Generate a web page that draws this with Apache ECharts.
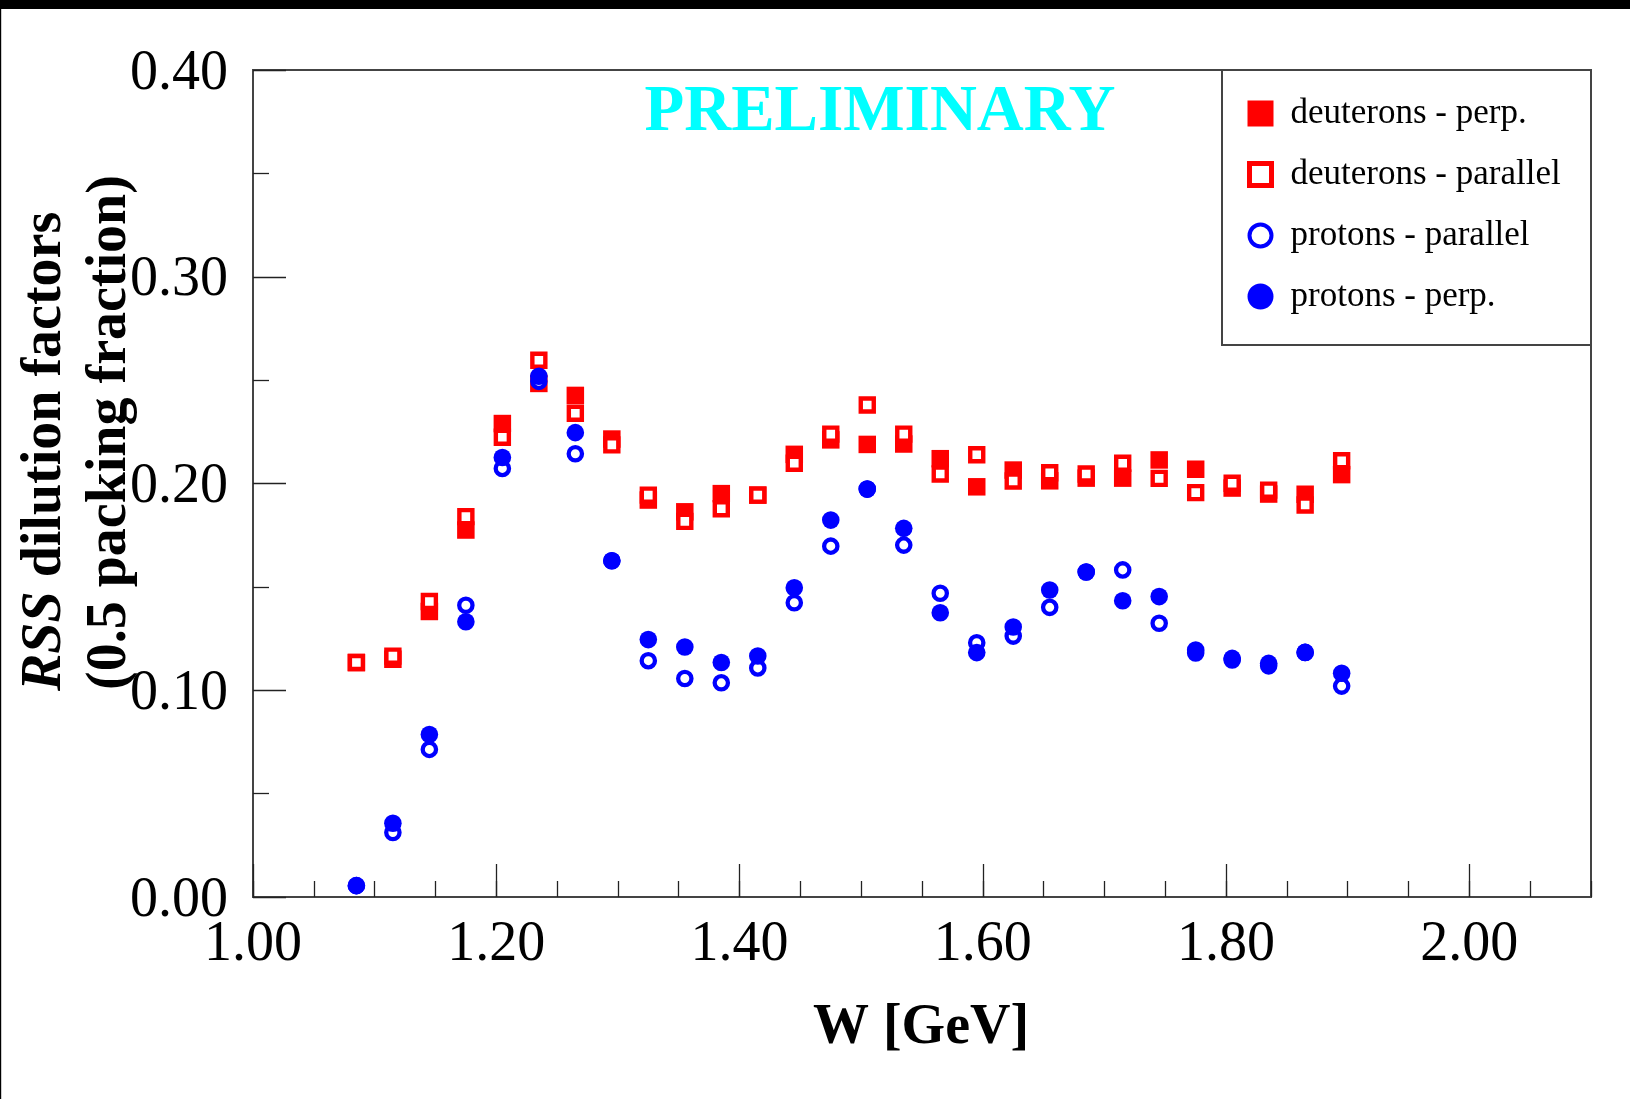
<!DOCTYPE html>
<html>
<head>
<meta charset="utf-8">
<script src="https://cdn.jsdelivr.net/npm/echarts@6/dist/echarts.min.js"></script>
<style>
html,body{margin:0;padding:0;background:#fff;}
#chart{width:1630px;height:1099px;}
</style>
</head>
<body>
<div id="chart"></div>
<script>
// ---- data ----
const W = [1.085, 1.115, 1.145, 1.175, 1.205, 1.235, 1.265, 1.295, 1.325, 1.355,
           1.385, 1.415, 1.445, 1.475, 1.505, 1.535, 1.565, 1.595, 1.625, 1.655,
           1.685, 1.715, 1.745, 1.775, 1.805, 1.835, 1.865, 1.895];
const deuteronsPerp = [0.1134, 0.1150, 0.1381, 0.1775, 0.2290, 0.2484, 0.2426, 0.2215, 0.1920, 0.1863,
                       0.1951, 0.1944, 0.2141, 0.2211, 0.2189, 0.2191, 0.2120, 0.1984, 0.2065, 0.2013,
                       0.2026, 0.2026, 0.2114, 0.2069, 0.1978, 0.1949, 0.1948, 0.2043];
const deuteronsParallel = [0.1134, 0.1165, 0.1429, 0.1840, 0.2224, 0.2596, 0.2340, 0.2187, 0.1944, 0.1817,
                           0.1878, 0.1944, 0.2098, 0.2239, 0.2380, 0.2239, 0.2046, 0.2139, 0.2012, 0.2052,
                           0.2046, 0.2098, 0.2025, 0.1956, 0.2001, 0.1968, 0.1896, 0.2110];
const protonsParallel = [0.0055, 0.0312, 0.0714, 0.1411, 0.2073, 0.2494, 0.2144, 0.1626, 0.1143, 0.1057,
                         0.1036, 0.1108, 0.1423, 0.1697, 0.1973, 0.1702, 0.1469, 0.1230, 0.1262, 0.1401,
                         0.1572, 0.1582, 0.1324, 0.1180, 0.1146, 0.1118, 0.1183, 0.1020];
const protonsPerp = [0.0055, 0.0357, 0.0786, 0.1331, 0.2126, 0.2519, 0.2246, 0.1626, 0.1245, 0.1209,
                     0.1134, 0.1166, 0.1496, 0.1823, 0.1973, 0.1783, 0.1375, 0.1182, 0.1306, 0.1485,
                     0.1572, 0.1433, 0.1453, 0.1195, 0.1154, 0.1130, 0.1183, 0.1082];
const seriesNames = ['deuterons - perp.', 'deuterons - parallel', 'protons - parallel', 'protons - perp.'];
const xTickValues = [1.0, 1.2, 1.4, 1.6, 1.8, 2.0];
const xTickLabels = ['1.00', '1.20', '1.40', '1.60', '1.80', '2.00'];
const yTickValues = [0.0, 0.1, 0.2, 0.3, 0.4];
const yTickLabels = ['0.00', '0.10', '0.20', '0.30', '0.40'];

// ---- chart ----
const FONT = "'Liberation Serif', 'DejaVu Serif', serif";
const RED = '#ff0000', BLUE = '#0000ff', FRAME = '#444444', TICK = '#222222';
function lab(values, labels, wrap) {
  return function (v) {
    for (let i = 0; i < values.length; i++) {
      if (Math.abs(values[i] - v) < 1e-6) return wrap ? '{a|' + labels[i] + '}' : labels[i];
    }
    return '';
  };
}
function pts(arr) { return W.map((w, i) => [w, arr[i]]); }

const chart = echarts.init(document.getElementById('chart'), null, {renderer: 'canvas'});
const axisLineStyle = {show: true, lineStyle: {color: FRAME, width: 2}};
const option = {
  animation: false,
  backgroundColor: '#ffffff',
  grid: {left: 253, top: 70, width: 1338, height: 827, show: true, borderColor: FRAME, borderWidth: 2, backgroundColor: '#fff'},
  xAxis: [
    {type: 'value', min: 1.0, max: 2.1, interval: 0.2, position: 'bottom',
     axisLine: axisLineStyle, splitLine: {show: false},
     axisTick: {show: true, inside: true, length: 33, lineStyle: {color: TICK, width: 1.3}},
     axisLabel: {show: true, margin: 20, showMaxLabel: false, formatter: lab(xTickValues, xTickLabels, false),
                 fontFamily: FONT, fontSize: 56, color: '#000'}},
    {type: 'value', min: 1.0, max: 2.1, interval: 0.05, position: 'bottom',
     axisLine: axisLineStyle, splitLine: {show: false},
     axisTick: {show: true, inside: true, length: 16, lineStyle: {color: TICK, width: 1.3}},
     axisLabel: {show: false}}
  ],
  yAxis: [
    {type: 'value', min: 0, max: 0.4, interval: 0.1, position: 'left',
     axisLine: axisLineStyle, splitLine: {show: false},
     axisTick: {show: true, inside: true, length: 33, lineStyle: {color: TICK, width: 1.3}},
     minorTick: {show: true, splitNumber: 2, length: 16, lineStyle: {color: TICK, width: 1.3}},
     minorSplitLine: {show: false},
     axisLabel: {show: true, margin: 25, formatter: lab(yTickValues, yTickLabels, true),
                 fontFamily: FONT, fontSize: 56, color: '#000',
                 rich: {a: {fontFamily: FONT, fontSize: 56, color: '#000', padding: [8, 0, 0, 0]}}}}
  ],
  legend: {
    orient: 'vertical', left: 1242, top: 91, itemGap: 26, padding: 5,
    itemWidth: 50, itemHeight: 22, symbolKeepAspect: true,
    textStyle: {fontFamily: FONT, fontSize: 35, lineHeight: 34, color: '#000'},
    data: [
      {name: seriesNames[0], icon: 'path://M0,0L1,0L1,1L0,1Z', itemStyle: {color: RED, borderColor: RED, borderWidth: 4}},
      {name: seriesNames[1], icon: 'path://M0,0L1,0L1,1L0,1Z', itemStyle: {color: '#fff', borderColor: RED, borderWidth: 5}},
      {name: seriesNames[2], icon: 'circle', itemStyle: {color: '#fff', borderColor: BLUE, borderWidth: 4}},
      {name: seriesNames[3], icon: 'circle', itemStyle: {color: BLUE, borderColor: BLUE, borderWidth: 4}}
    ]
  },
  graphic: {elements: [
    {type: 'rect', z: 3, shape: {x: 1222, y: 70, width: 369, height: 275}, style: {fill: '#fff', stroke: FRAME, lineWidth: 2}},
    {type: 'rect', z: 10, shape: {x: 0, y: 0, width: 1630, height: 9}, style: {fill: '#000'}},
    {type: 'rect', z: 10, shape: {x: 0, y: 0, width: 1.2, height: 1099}, style: {fill: '#000'}},
    {type: 'text', z: 5, x: 880, y: 113, style: {text: 'PRELIMINARY', fill: '#00ffff', font: "bold 65px " + FONT, textAlign: 'center', textVerticalAlign: 'middle'}},
    {type: 'text', z: 5, x: 921, y: 1029, style: {text: 'W [GeV]', fill: '#000', font: "bold 56px " + FONT, textAlign: 'center', textVerticalAlign: 'middle'}},
    {type: 'text', z: 5, x: 46, y: 691, rotation: Math.PI / 2,
     style: {text: '{i|RSS}{b| dilution factors}', fill: '#000', textAlign: 'left', textVerticalAlign: 'middle',
             rich: {i: {font: "italic bold 56px " + FONT, fill: '#000'}, b: {font: "bold 56px " + FONT, fill: '#000'}}}},
    {type: 'text', z: 5, x: 111, y: 690, rotation: Math.PI / 2,
     style: {text: '(0.5 packing fraction)', fill: '#000', font: "bold 56px " + FONT, textAlign: 'left', textVerticalAlign: 'middle'}}
  ]},
  series: [
    {name: seriesNames[0], type: 'scatter', silent: true, xAxisIndex: 0, yAxisIndex: 0, z: 2,
     symbol: 'rect', symbolSize: 17.5, itemStyle: {color: RED, opacity: 1}, data: pts(deuteronsPerp)},
    {name: seriesNames[1], type: 'scatter', silent: true, xAxisIndex: 0, yAxisIndex: 0, z: 2,
     symbol: 'rect', symbolSize: 13, itemStyle: {color: '#fff', borderColor: RED, borderWidth: 4.4, opacity: 1}, data: pts(deuteronsParallel)},
    {name: seriesNames[2], type: 'scatter', silent: true, xAxisIndex: 0, yAxisIndex: 0, z: 2,
     symbol: 'circle', symbolSize: 13.3, itemStyle: {color: '#fff', borderColor: BLUE, borderWidth: 4.3, opacity: 1}, data: pts(protonsParallel)},
    {name: seriesNames[3], type: 'scatter', silent: true, xAxisIndex: 0, yAxisIndex: 0, z: 2,
     symbol: 'circle', symbolSize: 17.6, itemStyle: {color: BLUE, opacity: 1}, data: pts(protonsPerp)}
  ]
};
chart.setOption(option);
</script>
</body>
</html>
